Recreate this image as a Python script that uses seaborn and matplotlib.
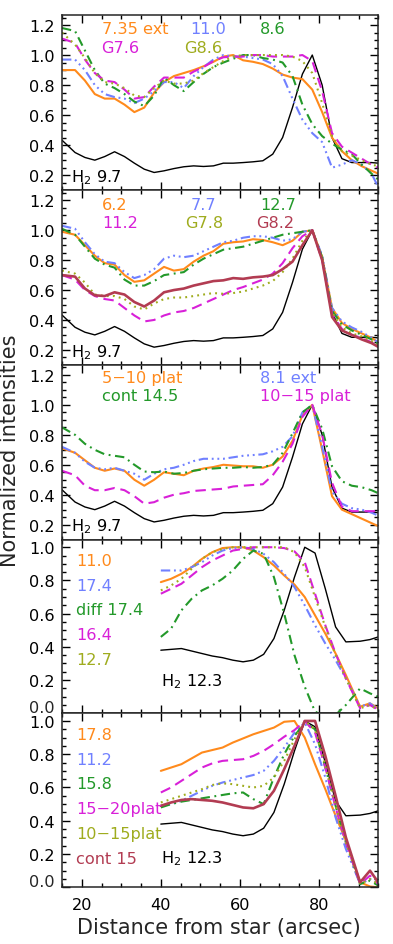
import numpy as np
import pandas as pd
import matplotlib
matplotlib.use("Agg")
import matplotlib.pyplot as plt
import seaborn as sns
from matplotlib.ticker import MultipleLocator, FuncFormatter

sns.set_style("ticks")
plt.rcParams['font.family'] = ['DejaVu Sans']
plt.rcParams['mathtext.fontset'] = 'dejavusans'

# ---------------- data ----------------
x_wide = [15.0, 18.3, 20.8, 23.3, 25.8, 28.3, 30.8, 33.3, 35.8, 38.3, 40.8, 43.3, 45.8,
          48.3, 50.8, 53.3, 55.8, 58.3, 60.8, 63.3, 65.8, 68.3, 70.8, 73.3, 75.8, 78.3,
          80.8, 83.3, 85.8, 88.3, 90.8, 93.3, 95.0]
x_near = [40.0, 42.6, 45.2, 47.8, 50.4, 53.0, 55.6, 58.2, 60.8, 63.4, 66.0, 68.6, 71.2,
          73.8, 76.4, 79.0, 81.6, 84.2, 86.8, 90.4, 92.9, 95.0]

h2_97 = [0.433, 0.351, 0.318, 0.30, 0.324, 0.356, 0.324, 0.28, 0.24, 0.218, 0.229, 0.244, 0.256,
         0.262, 0.258, 0.262, 0.28, 0.28, 0.284, 0.289, 0.296, 0.34, 0.451, 0.651, 0.873, 1.0,
         0.80, 0.45, 0.31, 0.284, 0.284, 0.284, 0.28]
h2_123 = [0.38, 0.385, 0.39, 0.375, 0.36, 0.345, 0.335, 0.32, 0.31, 0.32, 0.355, 0.45, 0.62,
          0.82, 1.00, 0.965, 0.75, 0.52, 0.43, 0.434, 0.444, 0.46]

# panel 1
p1_735ext = [0.90, 0.90, 0.83, 0.74, 0.71, 0.71, 0.67, 0.62, 0.65, 0.75, 0.82, 0.86, 0.88,
             0.90, 0.925, 0.955, 0.99, 1.00, 0.965, 0.955, 0.94, 0.91, 0.87, 0.85, 0.84, 0.77,
             0.62, 0.45, 0.36, 0.30, 0.26, 0.23, 0.21]
p1_110 = [0.97, 0.97, 0.90, 0.80, 0.74, 0.72, 0.71, 0.68, 0.71, 0.76, 0.82, 0.82, 0.78,
          0.86, 0.92, 0.97, 1.00, 0.99, 0.99, 0.98, 0.97, 0.94, 0.86, 0.71, 0.57, 0.48,
          0.42, 0.25, 0.27, 0.30, 0.27, 0.21, 0.12]
p1_86 = [1.18, 1.16, 1.03, 0.90, 0.81, 0.78, 0.74, 0.69, 0.66, 0.73, 0.85, 0.80, 0.76,
         0.82, 0.875, 0.92, 0.95, 0.975, 1.00, 1.00, 0.98, 0.97, 0.95, 0.86, 0.67, 0.54,
         0.46, 0.41, 0.37, 0.34, 0.27, 0.21, 0.17]
p1_g76 = [1.11, 1.08, 0.97, 0.88, 0.83, 0.82, 0.77, 0.71, 0.72, 0.79, 0.85, 0.85, 0.85,
          0.89, 0.92, 0.96, 0.985, 0.99, 0.99, 1.00, 1.00, 0.99, 0.99, 0.99, 1.00, 0.96,
          0.76, 0.48, 0.39, 0.35, 0.31, 0.27, 0.25]
p1_g86 = [1.15, 1.07, 0.98, 0.88, 0.82, 0.81, 0.78, 0.73, 0.72, 0.78, 0.83, 0.81, 0.81,
          0.83, 0.88, 0.92, 0.96, 0.99, 1.00, 1.00, 1.00, 1.00, 1.00, 0.99, 0.96, 0.88,
          0.68, 0.46, 0.36, 0.33, 0.30, 0.27, 0.26]

# panel 2
p2_62 = [0.99, 0.97, 0.90, 0.83, 0.78, 0.77, 0.70, 0.655, 0.665, 0.71, 0.755, 0.73, 0.74,
         0.79, 0.83, 0.86, 0.91, 0.92, 0.925, 0.94, 0.935, 0.92, 0.90, 0.93, 0.99, 1.00,
         0.82, 0.48, 0.38, 0.34, 0.31, 0.28, 0.25]
p2_77 = [1.03, 1.01, 0.92, 0.84, 0.79, 0.78, 0.72, 0.68, 0.70, 0.74, 0.81, 0.83, 0.82,
         0.83, 0.86, 0.89, 0.92, 0.93, 0.95, 0.96, 0.96, 0.95, 0.93, 0.94, 0.99, 1.00,
         0.83, 0.48, 0.39, 0.35, 0.32, 0.28, 0.25]
p2_127 = [1.01, 0.97, 0.89, 0.81, 0.77, 0.75, 0.67, 0.63, 0.63, 0.66, 0.70, 0.71, 0.72,
          0.77, 0.81, 0.84, 0.87, 0.88, 0.89, 0.91, 0.93, 0.95, 0.97, 0.98, 0.99, 1.00,
          0.82, 0.46, 0.37, 0.33, 0.30, 0.27, 0.24]
p2_112 = [0.70, 0.67, 0.60, 0.56, 0.54, 0.53, 0.48, 0.43, 0.39, 0.40, 0.43, 0.45, 0.46,
          0.48, 0.51, 0.54, 0.57, 0.60, 0.62, 0.645, 0.67, 0.71, 0.78, 0.88, 0.96, 1.00,
          0.80, 0.44, 0.34, 0.30, 0.28, 0.25, 0.22]
p2_g78 = [0.73, 0.71, 0.65, 0.57, 0.56, 0.56, 0.54, 0.49, 0.47, 0.51, 0.54, 0.55, 0.55,
          0.56, 0.57, 0.58, 0.575, 0.58, 0.59, 0.61, 0.63, 0.66, 0.72, 0.81, 0.93, 1.00,
          0.82, 0.45, 0.35, 0.31, 0.29, 0.26, 0.23]
p2_g82 = [0.70, 0.69, 0.61, 0.565, 0.56, 0.585, 0.57, 0.52, 0.49, 0.53, 0.585, 0.60, 0.61,
          0.63, 0.645, 0.66, 0.665, 0.68, 0.675, 0.685, 0.69, 0.70, 0.74, 0.79, 0.90, 1.00,
          0.80, 0.42, 0.33, 0.30, 0.27, 0.245, 0.22]

# panel 3
p3_510 = [0.71, 0.68, 0.63, 0.58, 0.56, 0.575, 0.56, 0.50, 0.46, 0.50, 0.55, 0.54, 0.53,
          0.56, 0.575, 0.585, 0.60, 0.595, 0.59, 0.59, 0.58, 0.60, 0.655, 0.76, 0.93, 1.00,
          0.70, 0.39, 0.30, 0.27, 0.24, 0.21, 0.19]
p3_81ext = [0.72, 0.68, 0.62, 0.58, 0.57, 0.58, 0.56, 0.54, 0.50, 0.54, 0.57, 0.58, 0.60,
            0.625, 0.64, 0.64, 0.64, 0.65, 0.66, 0.665, 0.67, 0.69, 0.72, 0.79, 0.95, 1.00,
            0.72, 0.42, 0.34, 0.31, 0.30, 0.28, 0.26]
p3_c145 = [0.85, 0.80, 0.74, 0.70, 0.67, 0.66, 0.65, 0.60, 0.555, 0.55, 0.555, 0.54, 0.545,
           0.56, 0.57, 0.575, 0.58, 0.58, 0.585, 0.58, 0.585, 0.60, 0.68, 0.81, 0.95, 1.00,
           0.84, 0.59, 0.49, 0.46, 0.45, 0.43, 0.41]
p3_1015 = [0.56, 0.53, 0.46, 0.43, 0.43, 0.445, 0.43, 0.39, 0.34, 0.35, 0.38, 0.40, 0.41,
           0.425, 0.43, 0.435, 0.44, 0.455, 0.46, 0.465, 0.47, 0.53, 0.62, 0.74, 0.92, 1.00,
           0.80, 0.48, 0.32, 0.29, 0.29, 0.29, 0.29]

# panel 4
p4_110 = [0.79, 0.81, 0.84, 0.88, 0.93, 0.97, 0.995, 1.00, 1.00, 0.98, 0.94, 0.89, 0.83,
          0.775, 0.70, 0.59, 0.48, 0.36, 0.23, 0.04, 0.06, 0.03]
p4_174 = [0.86, 0.86, 0.86, 0.88, 0.91, 0.95, 0.98, 0.995, 1.00, 0.99, 0.96, 0.91, 0.84,
          0.76, 0.65, 0.53, 0.42, 0.32, 0.21, 0.04, 0.06, 0.02]
p4_d174 = [0.46, 0.51, 0.62, 0.69, 0.74, 0.77, 0.81, 0.86, 0.93, 0.98, 0.96, 0.82, 0.60,
           0.35, 0.16, 0.01, -0.02, -0.01, 0.05, 0.15, 0.12, 0.10]
p4_164 = [0.72, 0.75, 0.78, 0.83, 0.88, 0.92, 0.95, 0.98, 0.99, 1.00, 1.00, 1.00, 0.995,
          0.975, 0.91, 0.72, 0.53, 0.36, 0.21, 0.03, 0.05, 0.02]
p4_127 = [0.74, 0.77, 0.81, 0.87, 0.93, 0.97, 0.99, 1.00, 1.00, 1.00, 1.00, 1.00, 1.00,
          0.97, 0.88, 0.70, 0.52, 0.35, 0.21, 0.03, 0.05, 0.02]

# panel 5
p5_178 = [0.70, 0.72, 0.74, 0.775, 0.81, 0.825, 0.84, 0.87, 0.895, 0.92, 0.94, 0.96, 0.995,
          1.00, 0.90, 0.74, 0.59, 0.43, 0.28, 0.03, 0.005, 0.00]
p5_112 = [0.49, 0.50, 0.52, 0.55, 0.58, 0.61, 0.63, 0.645, 0.66, 0.675, 0.70, 0.76, 0.84,
          0.93, 0.99, 0.86, 0.66, 0.42, 0.23, 0.02, 0.05, 0.02]
p5_158 = [0.48, 0.50, 0.515, 0.525, 0.535, 0.545, 0.555, 0.565, 0.57, 0.53, 0.50, 0.66, 0.80,
          0.91, 0.99, 0.95, 0.72, 0.49, 0.27, 0.02, 0.04, 0.01]
p5_1520 = [0.57, 0.60, 0.64, 0.68, 0.72, 0.745, 0.76, 0.765, 0.77, 0.79, 0.82, 0.86, 0.905,
           0.945, 1.00, 0.93, 0.72, 0.48, 0.27, 0.02, 0.07, 0.02]
p5_1015 = [0.51, 0.53, 0.55, 0.57, 0.59, 0.615, 0.625, 0.62, 0.61, 0.60, 0.61, 0.66, 0.76,
           0.89, 1.00, 0.95, 0.73, 0.49, 0.27, 0.02, 0.05, 0.02]
p5_c15 = [0.49, 0.51, 0.525, 0.53, 0.525, 0.52, 0.51, 0.495, 0.48, 0.475, 0.50, 0.58, 0.71,
          0.85, 1.00, 1.00, 0.79, 0.55, 0.30, 0.03, 0.10, 0.03]

x_ticks = [20, 40, 60, 80]
y_ticks_top = [0.2, 0.4, 0.6, 0.8, 1.0, 1.2]
y_ticks_bot = [0.0, 0.2, 0.4, 0.6, 0.8, 1.0]

# ---------------- styles ----------------
ORANGE = '#ff8a1c'
BLUE = '#7080ff'
GREEN = '#23992a'
MAGENTA = '#d820d8'
OLIVE = '#9fac1e'
MAROON = '#b23c52'
BLACK = '#000000'

LS = {
    'solid': '-',
    'dash': (0, (5, 2.8)),
    'dot': (0, (0.9, 2.0)),
    'dashdot': (0, (4.5, 2.2, 0.9, 2.2)),
    'dash3dot': (0, (4.5, 1.8, 0.9, 1.8, 0.9, 1.8, 0.9, 1.8)),
}

panels = [
    dict(x=x_wide, ylim=(0.1, 1.268), yticks=y_ticks_top, h2=h2_97, h2lab='9.7',
         h2pos=(17.4, 0.16),
         series=[(p1_735ext, ORANGE, 'solid'), (p1_110, BLUE, 'dash3dot'),
                 (p1_86, GREEN, 'dashdot'), (p1_g76, MAGENTA, 'dash'),
                 (p1_g86, OLIVE, 'dot')],
         texts=[('7.35 ext', 25.0, 1.144, ORANGE), ('11.0', 47.5, 1.144, BLUE),
                ('8.6', 65.1, 1.144, GREEN), ('G7.6', 25.0, 1.023, MAGENTA),
                ('G8.6', 45.8, 1.023, OLIVE)]),
    dict(x=x_wide, ylim=(0.1, 1.268), yticks=y_ticks_top, h2=h2_97, h2lab='9.7',
         h2pos=(17.4, 0.16),
         series=[(p2_62, ORANGE, 'solid'), (p2_77, BLUE, 'dash3dot'),
                 (p2_127, GREEN, 'dashdot'), (p2_112, MAGENTA, 'dash'),
                 (p2_g78, OLIVE, 'dot'), (p2_g82, MAROON, 'solid')],
         texts=[('6.2', 25.0, 1.145, ORANGE), ('7.7', 47.5, 1.145, BLUE),
                ('12.7', 65.1, 1.145, GREEN), ('11.2', 25.3, 1.022, MAGENTA),
                ('G7.8', 46.1, 1.022, OLIVE), ('G8.2', 64.2, 1.022, MAROON)]),
    dict(x=x_wide, ylim=(0.1, 1.268), yticks=y_ticks_top, h2=h2_97, h2lab='9.7',
         h2pos=(17.4, 0.16),
         series=[(p3_510, ORANGE, 'solid'), (p3_81ext, BLUE, 'dash3dot'),
                 (p3_c145, GREEN, 'dashdot'), (p3_1015, MAGENTA, 'dash')],
         texts=[('5\u221210 plat', 25.0, 1.155, ORANGE), ('8.1 ext', 65.1, 1.155, BLUE),
                ('cont 14.5', 25.0, 1.035, GREEN), ('10\u221215 plat', 65.2, 1.035, MAGENTA)]),
    dict(x=x_near, ylim=(0.0, 1.046), yticks=y_ticks_bot, h2=h2_123, h2lab='12.3',
         h2pos=(40.0, 0.166),
         series=[(p4_110, ORANGE, 'solid'), (p4_174, BLUE, 'dash3dot'),
                 (p4_d174, GREEN, 'dashdot'), (p4_164, MAGENTA, 'dash'),
                 (p4_127, OLIVE, 'dot')],
         texts=[('11.0', 18.5, 0.893, ORANGE), ('17.4', 18.5, 0.745, BLUE),
                ('diff 17.4', 18.5, 0.597, GREEN), ('16.4', 18.5, 0.448, MAGENTA),
                ('12.7', 18.5, 0.297, OLIVE)]),
    dict(x=x_near, ylim=(0.0, 1.046), yticks=y_ticks_bot, h2=h2_123, h2lab='12.3',
         h2pos=(40.0, 0.15),
         series=[(p5_178, ORANGE, 'solid'), (p5_112, BLUE, 'dash3dot'),
                 (p5_158, GREEN, 'dashdot'), (p5_1520, MAGENTA, 'dash'),
                 (p5_1015, OLIVE, 'dot'), (p5_c15, MAROON, 'solid')],
         texts=[('17.8', 18.5, 0.894, ORANGE), ('11.2', 18.5, 0.744, BLUE),
                ('15.8', 18.5, 0.594, GREEN), ('15\u221220plat', 18.5, 0.444, MAGENTA),
                ('10\u221215plat', 18.5, 0.294, OLIVE), ('cont 15', 18.5, 0.144, MAROON)]),
]

# ---------------- figure ----------------
W, H = 393, 945
fig = plt.figure(figsize=(W / 100, H / 100), dpi=100)
left_px, right_px = 62.0, 378.3
bounds = [15.8, 191.2, 365.8, 540.6, 714.3, 888.3]
FS = 11.6

for i, p in enumerate(panels):
    top, bot = bounds[i], bounds[i + 1]
    ax = fig.add_axes([left_px / W, 1 - bot / H, (right_px - left_px) / W, (bot - top) / H])
    sns.lineplot(x=p['x'], y=p['h2'], ax=ax, color=BLACK, lw=1.0, sort=False)
    for vals, col, st in p['series']:
        lw = 1.9 if col == MAROON else 1.5
        sns.lineplot(x=p['x'], y=vals, ax=ax, color=col, lw=lw, linestyle=LS[st], sort=False)
    ax.set_xlim(15, 95)
    ax.set_ylim(*p['ylim'])
    ax.set_xticks(x_ticks)
    ax.xaxis.set_minor_locator(MultipleLocator(5))
    ax.set_yticks(p['yticks'])
    ax.yaxis.set_minor_locator(MultipleLocator(0.05))
    ax.tick_params(which='both', direction='in', top=True, right=True, width=1.0,
                   labelsize=FS, colors='black')
    ax.tick_params(which='major', length=5.5, pad=5)
    ax.tick_params(which='minor', length=2.8)
    ax.tick_params(axis='x', pad=7)
    if p['ylim'][0] == 0.0:
        ax.yaxis.set_major_formatter(FuncFormatter(lambda v, pos: '' if abs(v) < 1e-9 else f'{v:.1f}'))
        ax.annotate('0.0', xy=(0, 0), xycoords='axes fraction', xytext=(-5, 4.5),
                    textcoords='offset points', ha='right', va='center', fontsize=FS)
    else:
        ax.yaxis.set_major_formatter(FuncFormatter(lambda v, pos: f'{v:.1f}'))
    if i < 4:
        ax.set_xticklabels([])
    ax.set_xlabel('')
    ax.set_ylabel('')
    for s in ax.spines.values():
        s.set_linewidth(1.1)
        s.set_visible(True)
    for txt, tx, ty, col in p['texts']:
        ax.text(tx, ty, txt, color=col, fontsize=FS, ha='left', va='baseline')
    ax.text(p['h2pos'][0], p['h2pos'][1], 'H$_2$ ' + p['h2lab'], color=BLACK,
            fontsize=FS, ha='left', va='baseline')

fig.text(219 / W, 1 - 928 / H, 'Distance from star (arcsec)', ha='center', va='center',
         fontsize=15)
fig.text(10 / W, 1 - 451 / H, 'Normalized intensities', ha='center', va='center',
         rotation=90, fontsize=15)

fig.savefig('out.png', dpi=100)
